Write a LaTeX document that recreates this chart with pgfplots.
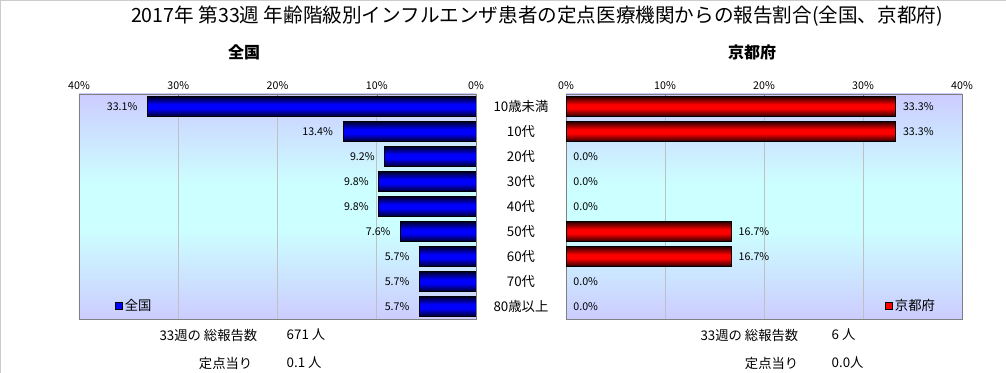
\documentclass[border=0pt]{standalone}
\usepackage{fontspec}
\setmainfont{Noto Sans CJK JP}
\usepackage{pgfplots}
\pgfplotsset{compat=1.18}
\definecolor{bgtop}{RGB}{204,204,255}
\definecolor{bgmid}{RGB}{204,255,255}
\definecolor{navy}{RGB}{0,0,40}
\definecolor{darkred}{RGB}{40,0,0}
\definecolor{gridgray}{RGB}{192,192,192}
\definecolor{framegray}{RGB}{128,128,128}
\pgfdeclareverticalshading{bgshade}{100bp}{color(0bp)=(bgtop); color(25bp)=(bgtop); color(45bp)=(bgmid); color(55bp)=(bgmid); color(75bp)=(bgtop); color(100bp)=(bgtop)}
\pgfdeclareverticalshading{bluebar}{100bp}{color(0bp)=(navy); color(25bp)=(navy); color(45bp)=(blue); color(55bp)=(blue); color(75bp)=(navy); color(100bp)=(navy)}
\pgfdeclareverticalshading{redbar}{100bp}{color(0bp)=(darkred); color(25bp)=(darkred); color(45bp)=(red); color(55bp)=(red); color(75bp)=(darkred); color(100bp)=(darkred)}
\pgfplotsset{
  common/.style={
    anchor=south west, scale only axis,
    height=168.75pt,
    xbar, bar width=0.8, bar shift=0pt,
    xmin=0, xmax=40,
    ymin=-0.5, ymax=8.5, y dir=reverse,
    ytick={0,...,8},
    major y tick style={draw=none},
    xtick={0,10,20,30,40},
    xticklabel pos=upper, xtick pos=upper,
    xticklabel={\pgfmathprintnumber{\tick}\%},
    /pgf/number format/assume math mode=true,
    xticklabel style={font=\fontsize{8}{9}\selectfont},
    xmajorgrids, grid style={color=gridgray},
    axis line style={framegray},
    tick style={framegray}, tick align=inside,
    axis background/.style={shading=bgshade, shade},
    nodes near coords={\pgfmathprintnumber[fixed,fixed zerofill,precision=1]{\pgfplotspointmeta}\%},
    legend style={draw=none, fill=none, font=\fontsize{10}{11}\selectfont, inner sep=0pt, anchor=west},
  },
  bluebar/.style={draw=black, shading=bluebar, shade, forget plot},
  redbar/.style={draw=black, shading=redbar, shade, forget plot},
  nobar/.style={draw=none, fill=none, forget plot},
}
\begin{document}
\begin{tikzpicture}[x=0.75pt,y=0.75pt]
\useasboundingbox (0,0) rectangle (1006,373);
\draw[gray!40, line width=1.5pt] (0,0) -- (0,373) -- (1006,373);
\node[font=\fontsize{14.7}{17}\selectfont] at (537,373-16) {2017年 第33週 年齢階級別インフルエンザ患者の定点医療機関からの報告割合(全国、京都府)};
\node[font=\fontsize{12}{14}\selectfont\bfseries] at (244,373-52) {全国};
\node[font=\fontsize{12}{14}\selectfont\bfseries] at (752,373-52) {京都府};
\begin{axis}[common,
  at={(59.25pt,40.5pt)}, width=297.75pt,
  x dir=reverse,
  yticklabel pos=right,
  yticklabels={10歳未満,10代,20代,30代,40代,50代,60代,70代,80歳以上},
  yticklabel style={anchor=center, xshift=33.75pt, font=\fontsize{10}{11}\selectfont},
  every node near coord/.append style={anchor=east, font=\fontsize{8}{9}\selectfont, xshift=-4pt},
  legend style={at={(axis description cs:0.09,0.058)}},
  legend image code/.code={\draw[draw=black, fill=blue] (0pt,-2.5pt) rectangle (5pt,2.5pt);},
]
\addplot[bluebar] coordinates {(33.1,0)};
\addplot[bluebar] coordinates {(13.4,1)};
\addplot[bluebar] coordinates {(9.2,2)};
\addplot[bluebar] coordinates {(9.8,3)};
\addplot[bluebar] coordinates {(9.8,4)};
\addplot[bluebar] coordinates {(7.6,5)};
\addplot[bluebar] coordinates {(5.7,6)};
\addplot[bluebar] coordinates {(5.7,7)};
\addplot[bluebar] coordinates {(5.7,8)};
\addlegendimage{draw=black}
\addlegendentry{全国}
\end{axis}
\begin{axis}[common,
  at={(424.5pt,40.5pt)}, width=297pt,
  yticklabels={},
  every node near coord/.append style={anchor=west, font=\fontsize{8}{9}\selectfont, xshift=2pt},
  legend style={at={(axis description cs:0.805,0.058)}},
  legend image code/.code={\draw[draw=black, fill=red] (0pt,-2.5pt) rectangle (5pt,2.5pt);},
]
\addplot[redbar] coordinates {(33.3,0)};
\addplot[redbar] coordinates {(33.3,1)};
\addplot[nobar] coordinates {(0,2)};
\addplot[nobar] coordinates {(0,3)};
\addplot[nobar] coordinates {(0,4)};
\addplot[redbar] coordinates {(16.7,5)};
\addplot[redbar] coordinates {(16.7,6)};
\addplot[nobar] coordinates {(0,7)};
\addplot[nobar] coordinates {(0,8)};
\addlegendimage{draw=black}
\addlegendentry{京都府}
\end{axis}
\begin{scope}[every node/.style={font=\fontsize{10}{11}\selectfont}]
\node[anchor=east] at (262,373-335) {33週の 総報告数};
\node[anchor=west] at (282,373-335) {671 人};
\node[anchor=east] at (257,373-363) {定点当り};
\node[anchor=west] at (282,373-363) {0.1 人};
\node[anchor=east] at (803,373-335) {33週の 総報告数};
\node[anchor=west] at (827,373-335) {6 人};
\node[anchor=east] at (803,373-363) {定点当り};
\node[anchor=west] at (827,373-363) {0.0人};
\end{scope}
\end{tikzpicture}
\end{document}
